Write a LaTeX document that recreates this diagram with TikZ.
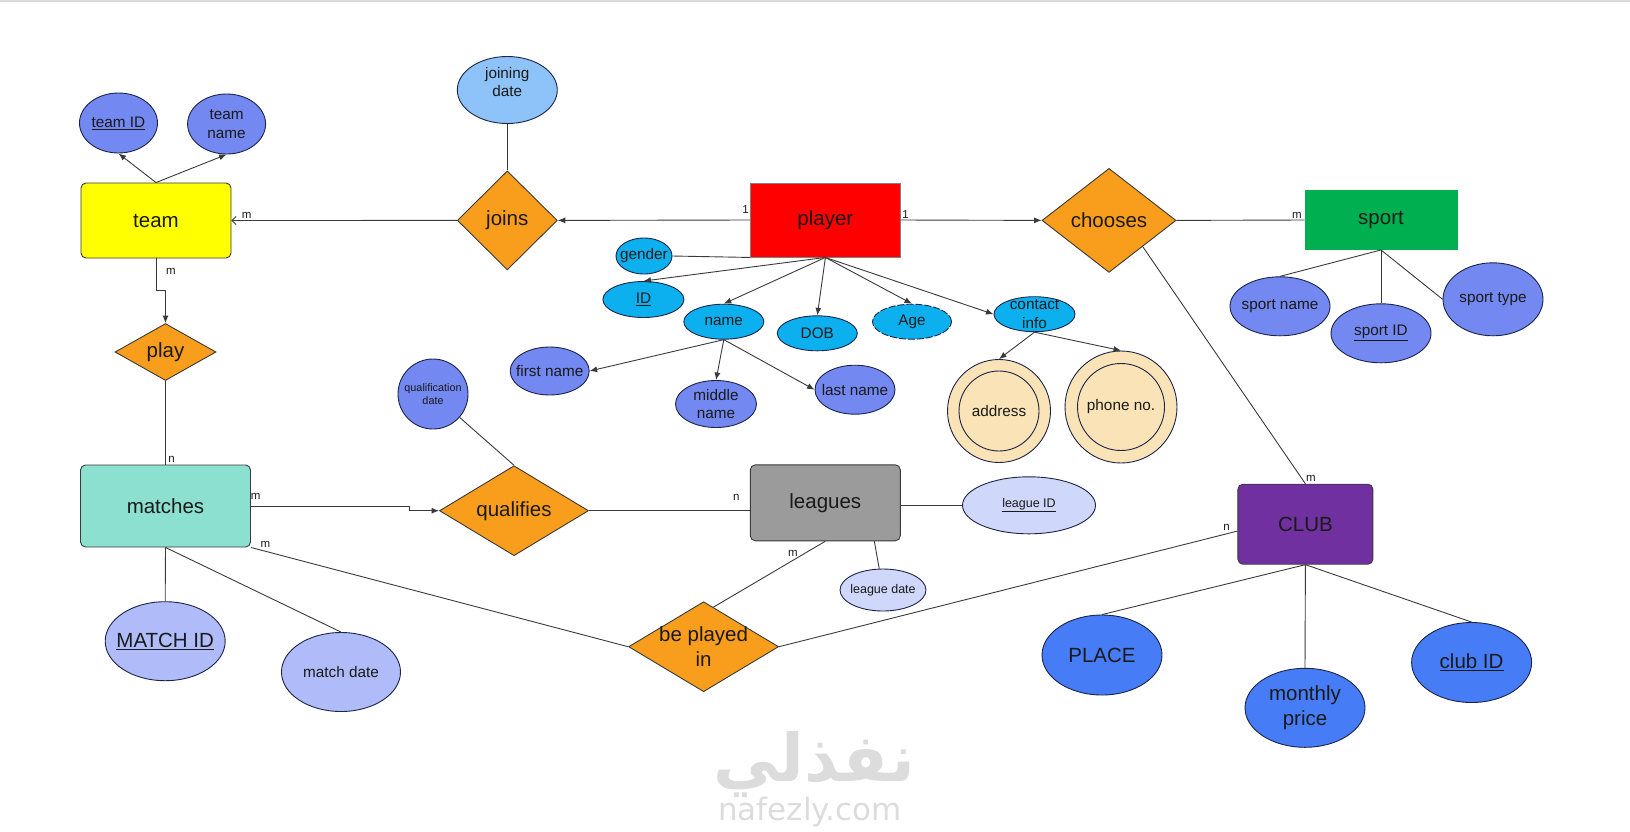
\documentclass[tikz,border=0pt]{standalone}
\usepackage{fontspec}
\setmainfont{Liberation Sans}
\newfontfamily\arabicfont[Script=Arabic]{DejaVu Sans}
\newfontfamily\logofont{DejaVu Sans}
\TeXXeTstate=1
\usepackage{tikz}
\usetikzlibrary{shapes.geometric,arrows.meta,calc}
\definecolor{ink}{HTML}{1A1A1A}
\definecolor{edge}{HTML}{3A3A3A}
\definecolor{rim}{HTML}{1C2448}
\definecolor{teamfill}{HTML}{FFFF00}
\definecolor{playerfill}{HTML}{FF0000}
\definecolor{sportfill}{HTML}{00B050}
\definecolor{matchfill}{HTML}{8CE0D0}
\definecolor{leaguefill}{HTML}{9B9B9B}
\definecolor{clubfill}{HTML}{7030A0}
\definecolor{relfill}{HTML}{F99D1C}
\definecolor{periw}{HTML}{7388F0}
\definecolor{sky}{HTML}{8EC3FA}
\definecolor{cyanatt}{HTML}{0DB0EE}
\definecolor{lilac}{HTML}{AFBCF9}
\definecolor{pale}{HTML}{CFD7FA}
\definecolor{wheat}{HTML}{FBE3B8}
\definecolor{royal}{HTML}{467CF6}
\definecolor{wmgray}{HTML}{DCDCDC}
\tikzset{
  ent/.style={draw=edge, line width=0.9pt, inner sep=0pt, text=ink, font=\fontsize{20.5}{24.5}\selectfont},
  rel/.style={diamond, draw=edge, line width=0.9pt, fill=relfill, inner sep=0pt},
  att/.style={ellipse, draw=rim, line width=0.9pt, inner sep=0pt},
  multi/.style={att, fill=wheat},
  bigtxt/.style={text=ink, align=center, font=\fontsize{20.5}{24.5}\selectfont},
  attmid/.style={text=ink, align=center, font=\fontsize{15.3}{18.3}\selectfont},
  attsmall/.style={text=ink, align=center, font=\fontsize{12.5}{15}\selectfont},
  atttiny/.style={text=ink, align=center, font=\fontsize{10.8}{13.3}\selectfont},
  card/.style={text=ink, inner sep=0pt, font=\fontsize{11.5}{13}\selectfont},
  link/.style={draw=edge, line width=0.9pt},
  arr/.style={link, -{Latex[length=7.5pt,width=6pt]}},
  barb/.style={link, -{Straight Barb[length=4pt,width=8pt]}},
  wmark/.style={text=wmgray, inner sep=0pt}
}
\begin{document}
\begin{tikzpicture}[x=1pt, y=-1pt]
  \useasboundingbox (0,0) rectangle (1630,831);
  \draw[line width=2pt, black!14] (0,1) -- (1630,1);

  \node[wmark, font=\fontsize{66}{66}\selectfont] (wmar) at (814,764) {\arabicfont\bfseries\beginR نفذلي\endR};
  \node[wmark, font=\fontsize{31}{31}\selectfont] (wmen) at (810,812) {\logofont nafezly.com};

  \node[ent, fill=teamfill, rounded corners=5pt, minimum width=150pt, minimum height=75pt] (team) at (156,220.5) {team};
  \node[ent, fill=playerfill, draw=gray, minimum width=150pt, minimum height=74pt] (player) at (825.4,220) {player};
  \node[ent, fill=sportfill, draw=sportfill, minimum width=152pt, minimum height=59pt] (sport) at (1381,220) {sport};
  \node[ent, fill=matchfill, rounded corners=5pt, minimum width=170pt, minimum height=82pt] (matches) at (165.5,506) {matches};
  \node[ent, fill=leaguefill, rounded corners=5pt, minimum width=150pt, minimum height=76pt] (leagues) at (825.3,502.8) {leagues};
  \node[ent, fill=clubfill, rounded corners=5pt, minimum width=135pt, minimum height=80pt] (club) at (1305.4,524.2) {CLUB};

  \node[rel, minimum width=100pt, minimum height=99pt, label={[bigtxt]center:joins}] (joins) at (507.3,220.4) {};
  \node[rel, minimum width=134pt, minimum height=104pt, label={[bigtxt]center:chooses}] (chooses) at (1109,220.4) {};
  \node[rel, minimum width=101pt, minimum height=57pt, label={[bigtxt]center:play}] (play) at (165.5,352) {};
  \node[rel, minimum width=149pt, minimum height=90pt, label={[bigtxt]center:qualifies}] (qual) at (514,510.7) {};
  \node[rel, minimum width=150pt, minimum height=90pt, label={[bigtxt]center:be played\\in}] (bpi) at (703.6,646.7) {};

  \node[att, fill=periw, minimum width=78pt, minimum height=60pt, label={[attmid]center:\underline{team ID}}] (tid) at (118.5,123) {};
  \node[att, fill=periw, minimum width=78pt, minimum height=60pt, label={[attmid]center:team\\name}] (tname) at (226.6,124) {};
  \node[att, fill=sky, minimum width=100pt, minimum height=67pt, label={[attmid, yshift=8pt]center:joining\\date}] (jdate) at (507.3,90) {};

  \node[att, fill=cyanatt, minimum width=56pt, minimum height=36pt, label={[attmid]center:gender}] (gender) at (644,256) {};
  \node[att, fill=cyanatt, minimum width=81pt, minimum height=36pt, label={[attmid]center:\underline{ID}}] (pid) at (643.4,299.5) {};
  \node[att, fill=cyanatt, minimum width=80pt, minimum height=35pt, label={[attmid]center:name}] (pname) at (723.8,321.7) {};
  \node[att, fill=cyanatt, minimum width=80pt, minimum height=35pt, label={[attmid]center:DOB}] (dob) at (817.3,333.3) {};
  \node[att, fill=cyanatt, dash pattern=on 7pt off 2pt, minimum width=79pt, minimum height=35pt, label={[attmid]center:Age}] (age) at (912,321.7) {};
  \node[att, fill=cyanatt, minimum width=81pt, minimum height=35pt, label={[attmid]center:contact\\info}] (cinfo) at (1034.5,314.2) {};

  \node[att, fill=periw, minimum width=79pt, minimum height=48pt, label={[attmid]center:first name}] (fname) at (549.7,371) {};
  \node[att, fill=periw, minimum width=81pt, minimum height=47pt, label={[attmid]center:middle\\name}] (mname) at (716,404) {};
  \node[att, fill=periw, minimum width=80pt, minimum height=49pt, label={[attmid]center:last name}] (lname) at (855,389.7) {};

  \node[multi, minimum size=103pt] (addr) at (999,411) {};
  \node[att, minimum size=80pt, label={[attmid]center:address}] (addrin) at (addr) {};
  \node[multi, minimum size=112pt] (phone) at (1121,407) {};
  \node[att, minimum size=87pt, label={[attmid]center:phone no.}] (phonein) at (phone) {};

  \node[att, fill=periw, minimum width=100pt, minimum height=59pt, label={[attmid]center:sport name}] (sname) at (1280,306.3) {};
  \node[att, fill=periw, minimum width=100pt, minimum height=59pt, label={[attmid]center:\underline{sport ID}}] (sid) at (1381,333.3) {};
  \node[att, fill=periw, minimum width=100pt, minimum height=73pt, label={[attmid]center:sport type}] (stype) at (1493,299.3) {};

  \node[att, fill=periw, minimum size=70pt, label={[atttiny]center:qualification\\date}] (qdate) at (433,394) {};
  \node[att, fill=lilac, minimum width=120pt, minimum height=79pt, label={[bigtxt]center:\underline{MATCH ID}}] (mid) at (165.2,641.2) {};
  \node[att, fill=lilac, minimum width=119pt, minimum height=79pt, label={[attmid]center:match date}] (mdate) at (341,672) {};
  \node[att, fill=pale, minimum width=133pt, minimum height=57pt, label={[attsmall]center:\underline{league ID}}] (lid) at (1029,505.3) {};
  \node[att, fill=pale, minimum width=86pt, minimum height=42pt, label={[attsmall]center:league date}] (ldate) at (883,590) {};
  \node[att, fill=royal, minimum width=120pt, minimum height=80pt, label={[bigtxt]center:PLACE}] (place) at (1102,655) {};
  \node[att, fill=royal, minimum width=120pt, minimum height=79pt, label={[bigtxt]center:monthly\\price}] (mprice) at (1305,707.8) {};
  \node[att, fill=royal, minimum width=120pt, minimum height=80pt, label={[bigtxt]center:\underline{club ID}}] (cid) at (1471.6,662.5) {};

  \draw[arr] (team.north) -- (tid.south);
  \draw[arr] (team.north) -- (tname.south);
  \draw[barb] (joins.west) -- (team.east);
  \draw[link] (jdate.south) -- (joins.north);
  \draw[arr] (team.south) |- ($(team.south)!0.5!(play.north)$) -| (play.north);
  \draw[link] (play.south) -- (matches.north);
  \draw[arr] (player.west) -- (joins.east);
  \draw[arr] (player.east) -- (chooses.west);
  \draw[link] (chooses.east) -- (sport.west);
  \draw[link] ($(chooses.south)!0.5!(chooses.east)$) -- (club.north);
  \draw[link] (sport.south) -- (sname.north);
  \draw[link] (sport.south) -- (sid.north);
  \draw[link] (sport.south) -- (stype.west);
  \draw[link] (player.south west) -- (gender.east);
  \foreach \t in {pid,pname,dob,age}
    \draw[arr] (player.south) -- (\t.north);
  \draw[arr] (player.south) -- (cinfo.west);
  \draw[arr] (pname.south) -- (fname.east);
  \draw[arr] (pname.south) -- (mname.north);
  \draw[arr] (pname.south) -- (lname.west);
  \draw[arr] (cinfo.south) -- (addr.north);
  \draw[arr] (cinfo.south) -- (phone.north);
  \draw[arr] (matches.east) -- ++(158.6,0) |- (qual.west);
  \draw[link] (qdate) -- (qual.north);
  \draw[link] (qual.east) -- (qual.east -| leagues.west);
  \draw[link] (lid.west -| leagues.east) -- (lid.west);
  \draw[link] ($(leagues.south)!0.65!(leagues.south east)$) -- (ldate);
  \draw[link] ($(bpi.north)!0.13!(bpi.east)$) -- (leagues.south);
  \draw[link] (matches.south east) -- (bpi.west);
  \draw[link] (bpi.east) -- ($(club.west)!0.17!(club.south west)$);
  \draw[link] (matches.south) -- (mid.north);
  \draw[link] (matches.south) -- (mdate.north);
  \foreach \t in {place,mprice,cid}
    \draw[link] (club.south) -- (\t.north);

  \node[card] (mteam) at (246.7,215) {m};
  \node[card] (mplay) at (171,271) {m};
  \node[card] (oneleft) at (745.5,210) {1};
  \node[card] (oneright) at (905.5,214.5) {1};
  \node[card] (msport) at (1297,215) {m};
  \node[card] (mclub) at (1311,478) {m};
  \node[card] (nmatch) at (171.5,459.5) {n};
  \node[card] (mqual) at (255.7,496.7) {m};
  \node[card] (mbpi) at (265.4,544) {m};
  \node[card] (nleague) at (736.4,497.3) {n};
  \node[card] (mleague) at (792.9,553.3) {m};
  \node[card] (nclub) at (1226.5,527) {n};
\end{tikzpicture}
\end{document}
